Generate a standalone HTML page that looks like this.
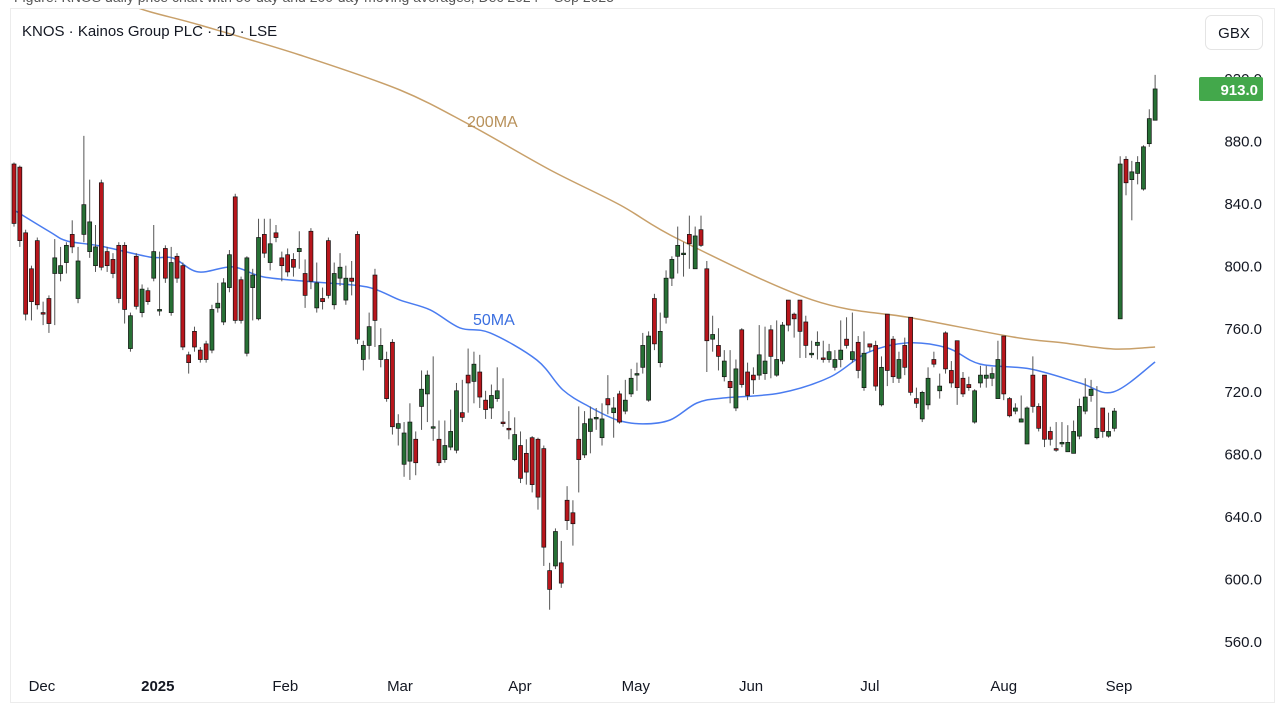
<!DOCTYPE html>
<html><head><meta charset="utf-8"><style>
body{margin:0;background:#fff;width:1283px;height:715px;overflow:hidden;font-family:"Liberation Sans",sans-serif}
svg{position:absolute;left:0;top:0}
</style></head><body>
<svg id="chart" width="1283" height="715">
<text x="14" y="2" font-size="14" fill="#555">Figure: KNOS daily price chart with 50-day and 200-day moving averages, Dec 2024 – Sep 2025</text>
<rect x="10.5" y="8.5" width="1264" height="694" fill="#fff" stroke="#ececec"/>
<g id="plot" clip-path="url(#clip)"></g>
<defs><clipPath id="clip"><rect x="11" y="9" width="1185" height="693"/></clipPath></defs>
<text x="22" y="36" font-size="15" fill="#131722">KNOS · Kainos Group PLC · 1D · LSE</text>
<rect x="1205.5" y="15.5" width="57" height="34" rx="6" fill="#fff" stroke="#e4e4e4"/>
<text x="1234" y="38" font-size="15" fill="#131722" text-anchor="middle">GBX</text>
<g id="yaxis"></g><g id="xaxis"></g>
<text x="467" y="127" font-size="16" fill="#b8915a">200MA</text>
<text x="473" y="325" font-size="16" fill="#3b6fe0">50MA</text>
</svg>
<script>
const O=[865,863,821,798,816,770,779,795,795,802,820,779,820,809,800,853,809,804,813,813,747,806,770,784,792,771,811,770,806,800,743,758,746,750,746,773,764,786,844,791,744,786,766,820,802,821,805,807,804,809,795,822,773,779,816,775,792,778,792,820,740,749,794,740,740,751,696,673,675,689,710,718,697,689,676,684,682,706,730,726,732,714,709,715,700,696,676,685,680,690,689,683,605,608,610,650,642,689,679,694,702,690,715,706,718,707,718,731,735,714,779,738,767,792,806,808,820,798,823,798,753,749,729,726,709,759,732,730,730,731,759,730,739,778,769,778,764,743,749,741,740,735,740,753,740,751,722,750,749,711,769,753,728,749,767,715,702,711,740,720,757,733,752,728,724,700,725,728,728,715,755,715,707,700,686,730,710,730,694,683,686,681,680,691,707,717,690,709,691,696,766,868,855,859,849,878,893];
const C=[827,816,769,777,775,769,763,805,800,813,812,803,839,828,812,799,800,795,779,772,768,774,785,777,809,772,792,802,792,748,738,748,740,740,772,776,789,807,765,765,805,794,818,808,814,818,800,796,799,811,781,790,789,777,781,795,799,792,790,753,749,761,765,749,715,697,699,693,700,674,721,730,697,674,685,694,720,703,725,737,716,708,717,720,699,695,692,664,668,660,652,620,593,630,597,637,635,676,699,702,703,702,711,709,700,714,728,731,749,755,750,758,792,804,813,808,814,819,813,752,756,742,739,722,734,724,717,727,743,739,742,740,762,762,766,758,749,744,751,740,745,740,746,749,745,733,744,748,723,735,733,729,740,735,719,712,719,728,737,723,734,725,722,718,722,720,730,730,731,740,718,704,709,702,709,710,696,689,689,682,687,687,694,710,716,721,696,694,694,707,865,853,860,866,876,894,913];
const H=[866,864,823,800,818,777,781,817,812,815,829,812,883,855,826,855,812,808,815,815,770,808,788,786,826,809,813,812,808,802,745,761,748,752,775,789,792,810,846,793,806,798,830,830,830,826,809,811,808,822,804,824,802,786,818,802,808,800,803,822,752,770,798,760,745,753,705,700,712,694,733,733,742,701,701,708,725,727,747,745,743,720,724,735,728,707,703,694,689,691,690,685,610,632,624,659,650,710,707,710,709,712,730,716,720,727,734,738,757,758,782,770,797,806,825,815,832,825,832,803,768,760,746,746,740,760,738,735,762,761,762,765,764,778,770,778,768,752,758,752,750,746,765,767,770,755,758,750,752,742,769,755,745,754,767,722,720,735,745,731,758,739,752,732,729,721,736,736,735,752,755,716,712,717,710,742,712,730,697,700,700,698,701,715,728,727,723,709,706,709,870,870,867,870,877,900,922];
const L=[825,812,765,765,772,762,757,762,790,795,808,776,815,805,796,797,796,792,776,763,745,772,767,775,790,768,789,768,789,746,731,745,738,738,744,770,762,783,763,763,742,765,765,805,797,815,790,793,793,798,773,785,770,772,779,772,787,775,781,750,733,740,748,735,713,692,685,665,663,666,695,700,688,672,674,682,680,700,706,712,709,702,702,713,697,689,675,661,660,655,644,608,580,606,594,631,621,655,677,680,695,685,705,690,699,705,716,720,731,713,746,735,763,787,795,793,798,798,812,732,745,733,726,712,707,722,714,718,727,727,728,729,737,758,754,741,741,741,740,738,738,733,735,747,738,728,720,745,720,710,723,725,725,730,717,709,700,708,735,715,731,722,711,716,720,699,722,722,723,715,714,703,705,700,686,706,694,684,685,681,684,681,680,689,705,713,689,690,690,694,766,845,829,852,848,876,893];
const ma50Idx=[0,6.2,9.1,14.8,23.4,27.3,31.6,37.6,42.8,51.4,60.6,66.3,71.5,76.6,81.8,89.8,94.3,98.9,103.6,108,112.7,117.3,121.8,131.6,140.2,146.5,153.4,160.3,165.9,174.5,183.1,188.8,196];
const ma50Val=[835.6,821.5,815.8,812.6,805.5,804.9,796,799.2,792.8,789.6,786.4,778,771.7,760.2,757,739.7,720.5,709.6,701.3,698.8,701.3,712.2,715.4,718.6,728.8,744.2,750.6,747.4,737.1,734,725,719.2,738.4];
const ma200Idx=[7.9,19.9,31.9,49.1,66.3,78.3,92.1,104.1,114.4,137.2,154.4,171.6,180.2,188.8,196];
const ma200Val=[989,966.7,953.9,934.7,912.3,890,861.2,838.8,816.4,778,766.5,754.4,750.6,746.7,748];
const yTicks=[920,880,840,800,760,720,680,640,600,560];
const xLabels=["Dec","2025","Feb","Mar","Apr","May","Jun","Jul","Aug","Sep"];
const xLabelIdx=[4.8,24.7,46.6,66.3,86.9,106.8,126.6,147,170,189.8];
const lastPrice=913.0;

const NS="http://www.w3.org/2000/svg";
const X=i=>14+i*5.822;
const Y=v=>78+(920-v)*1.5639;
function mk(tag,attrs,parent){const e=document.createElementNS(NS,tag);for(const k in attrs)e.setAttribute(k,attrs[k]);parent.appendChild(e);return e;}
const plot=document.getElementById('plot');
function smoothPath(xs,vs){
  const P=xs.map((x,i)=>[X(x),Y(vs[i])]);
  let d='M'+P[0][0].toFixed(1)+','+P[0][1].toFixed(1);
  for(let i=0;i<P.length-1;i++){
    const p0=P[Math.max(0,i-1)],p1=P[i],p2=P[i+1],p3=P[Math.min(P.length-1,i+2)];
    const c1=[p1[0]+(p2[0]-p0[0])/6,p1[1]+(p2[1]-p0[1])/6];
    const c2=[p2[0]-(p3[0]-p1[0])/6,p2[1]-(p3[1]-p1[1])/6];
    d+=' C'+c1.map(v=>v.toFixed(1)).join(',')+' '+c2.map(v=>v.toFixed(1)).join(',')+' '+p2[0].toFixed(1)+','+p2[1].toFixed(1);
  }
  return d;
}
const line=(xs,vs,col,name)=>{const p=mk('path',{d:smoothPath(xs,vs),fill:'none',stroke:col,'stroke-width':1.5},plot);

};
line(ma200Idx,ma200Val,'#c8a06a','ma200-line');
line(ma50Idx,ma50Val,'#4a7cf0','ma50-line');
for(let i=0;i<C.length;i++){
  const up=C[i]>=O[i];const x=X(i);
  const g=mk('g',{},plot);
  
  
  mk('line',{x1:x,x2:x,y1:Y(H[i]),y2:Y(L[i]),stroke:'#555','stroke-width':1},g);
  const t=Y(Math.max(O[i],C[i])),b=Y(Math.min(O[i],C[i]));
  mk('rect',{x:x-2,y:t,width:4,height:Math.max(1.5,b-t),fill:up?'#277035':'#b8161c',stroke:'#111','stroke-width':0.7},g);
}
const ya=document.getElementById('yaxis');
yTicks.forEach(v=>{const t=mk('text',{x:1262,y:Y(v)+6,'font-size':15,fill:'#131722','text-anchor':'end'},ya);t.textContent=v.toFixed(1);

});
const tag=mk('rect',{x:1199,y:Y(lastPrice)-12,width:64,height:24,rx:2,fill:'#43a84b'},ya);


const tt=mk('text',{x:1258,y:Y(lastPrice)+6,'font-size':15,fill:'#fff','font-weight':'bold','text-anchor':'end'},ya);tt.textContent=lastPrice.toFixed(1);


const xa=document.getElementById('xaxis');
xLabels.forEach((s,i)=>{const t=mk('text',{x:X(xLabelIdx[i]),y:691,'font-size':15,fill:'#131722','text-anchor':'middle','font-weight':s==='2025'?'bold':'normal'},xa);t.textContent=s;

});
</script>
</body></html>
